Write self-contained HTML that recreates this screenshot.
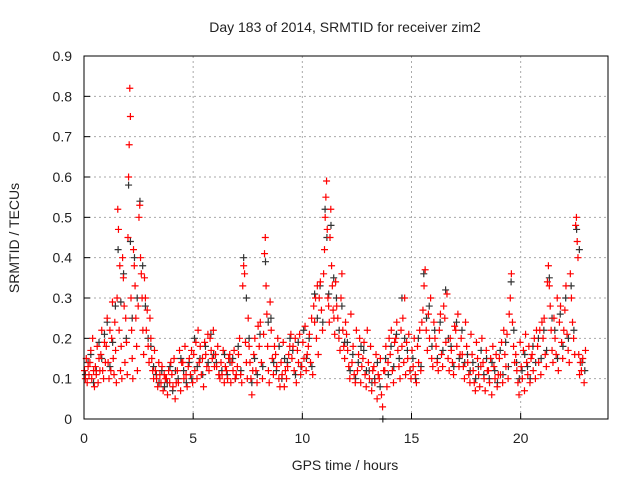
<!DOCTYPE html>
<html><head><meta charset="utf-8"><style>
body{margin:0;background:#fff}
svg text{font-family:"Liberation Sans",sans-serif;font-size:14px;fill:#222}
</style></head><body>
<svg id="c" width="640" height="480">
<text x="345" y="32" text-anchor="middle">Day 183 of 2014, SRMTID for receiver zim2</text>
<text x="345" y="470" text-anchor="middle">GPS time / hours</text>
<text transform="translate(19,238) rotate(-90)" text-anchor="middle">SRMTID / TECUs</text>
<g id="grid"></g><g id="ticks"></g><g id="pts"></g>
<rect x="84" y="56" width="524" height="363" fill="none" stroke="#000"/>
</svg>
<script>
const xTicks=[0,5,10,15,20];
const yTicks=[0,0.1,0.2,0.3,0.4,0.5,0.6,0.7,0.8,0.9];
const binStart=0, binWidth=0.25;
const redBins=[
[12,10,15,9,13,11],[14,17,10,20,12,8],[13,11,18,9,15,12],[16,22,12,10,19,14],[18,25,14,10,22,12],
[20,29,15,11,24,17,9],[30,52,47,22,38,12,18,10],[40,35,28,14,25,19,11],[45,60,68,82,75,30,22,15,10],[42,38,33,25,18,12,28],
[50,53,40,36,30,22,16],[35,30,22,27,18,14],[25,20,15,12,10,17],[12,10,8,14,11],[9,13,7,11,10],
[10,6,12,9,14],[11,8,15,5,9],[12,9,17,7,14],[14,10,18,11,8],[13,15,11,17,9],
[16,12,19,10,22],[14,18,11,15,8],[19,16,13,21,12],[20,17,15,22,13],[16,13,18,11,10],
[14,11,17,9,13],[12,10,15,16,9],[14,12,17,10,11],[13,16,20,11,9],[33,38,36,19,14,10],
[25,18,14,10,6,12],[16,20,12,9,23],[18,24,14,10,21],[41,45,33,26,18,12,9],[29,22,15,11,18],
[16,13,20,10,8],[14,11,19,8,12],[10,13,16,18,21],[15,18,12,20,9],[17,14,21,11,13],
[19,15,23,12,16],[18,21,14,25,11],[28,24,30,20,33,16],[30,34,27,22,36],[42,50,55,59,47,30,28,24],
[45,52,38,33,27,25,21],[34,28,25,20,17],[30,36,22,18,15,24],[21,17,13,10,26],[14,18,11,9,22],
[12,16,20,9,13],[15,19,11,8,22],[14,10,18,7,12],[13,9,16,5,11],[10,15,6,3,12],
[12,18,8,14,20],[16,22,12,9,19],[20,24,17,13,10],[22,18,25,14,30,11],[19,15,21,12,10],
[17,13,20,11,9],[18,14,22,12,24],[27,33,37,22,17],[26,20,30,15,13],[24,20,18,14,12],
[22,26,16,13,28],[25,19,31,15,12],[20,17,14,11,23],[22,18,26,13,16],[20,16,13,10,24],
[18,14,11,9,21],[16,12,9,7,19],[15,11,8,13,20],[14,10,7,17,12],[12,9,15,6,18],
[13,10,16,8,11],[15,11,19,9,22],[16,13,21,10,26],[30,36,24,18,14],[16,12,9,6,19],
[13,10,17,7,21],[14,11,18,9,15],[16,12,20,10,22],[18,14,22,11,24],[20,25,16,13,34],
[38,33,28,22,17,14],[25,20,16,30,12],[24,28,19,15,22],[27,33,21,17,14],[36,30,24,20,16],
[48,50,44,40,16,11,14],[12,15,9,17]
];
const blackBins=[
[11,14],[16,9],[12,19],[15,21],[24,13],[19,28],[42,29],[36,20],[58,44,25],[40,30],
[54,38],[28,20],[18,13],[11,9],[12,8],[9,13],[7,12],[10,15],[12,9],[14,10],
[20,13],[15,11],[18,14],[21,16],[14,11],[12,16],[11,14],[15,10],[18,12],[40,30],
[20,9],[15,11],[21,13],[39,24],[25,14],[12,18],[10,15],[14,20],[17,11],[19,13],
[22,15],[20,13],[31,25],[33,24],[52,45,31],[48,35],[30,22],[28,19],[19,12],[16,10],
[14,18],[17,12],[12,9],[10,14],[8,0],[15,11],[18,13],[21,15],[30,20],[17,12],
[15,10],[20,13],[36,25],[28,18],[22,15],[24,17],[32,20],[18,13],[24,15],[22,14],
[16,12],[14,10],[13,17],[11,15],[10,14],[12,9],[17,11],[19,13],[34,22],[14,10],
[12,16],[13,10],[18,14],[20,15],[22,17],[35,25],[22,15],[26,18],[30,20],[33,22],
[47,42],[14,12]
];
const X=t=>84+t*(524/24), Y=v=>419-v*(363/0.9);
const NS="http://www.w3.org/2000/svg";
const grid=document.getElementById('grid'),ticks=document.getElementById('ticks'),pts=document.getElementById('pts');
function mk(tag,a,p){const e=document.createElementNS(NS,tag);for(const k in a)e.setAttribute(k,a[k]);p.appendChild(e);return e;}
yTicks.forEach(v=>{
  if(v>0&&v<0.9){const g=mk('line',{x1:84,x2:608,y1:Y(v),y2:Y(v),stroke:'#aaa','stroke-dasharray':'2,3'},grid);
  
  }
  const t=mk('text',{x:72,y:Y(v)+5,'text-anchor':'end'},ticks);t.textContent=v===0?'0':v.toFixed(1);
  
  
  mk('line',{x1:84,x2:90,y1:Y(v),y2:Y(v),stroke:'#000'},ticks);
});
xTicks.forEach(v=>{
  if(v>0){const g=mk('line',{x1:X(v),x2:X(v),y1:56,y2:419,stroke:'#aaa','stroke-dasharray':'2,3'},grid);
  
  }
  const t=mk('text',{x:X(v),y:443,'text-anchor':'middle'},ticks);t.textContent=v;
  
  
  mk('line',{x1:X(v),x2:X(v),y1:419,y2:413,stroke:'#000'},ticks);
});
function plus(t,v,col){const x=X(t),y=Y(v);
  const p=mk('path',{d:`M${x-3.5},${y}h7M${x},${y-3.5}v7`,stroke:col,'stroke-width':1.2,fill:'none'},pts);
  return p;}
function draw(bins,col,name){
  bins.forEach((b,i)=>{b.forEach((v,j)=>{
    const t=binStart+i*binWidth+(j+0.5)*binWidth/b.length;
    const p=plus(t,v/100,col);
    
    
  });});
}
draw(blackBins,'#333','black-point');
draw(redBins,'#f00','red-point');
</script>
</body></html>
